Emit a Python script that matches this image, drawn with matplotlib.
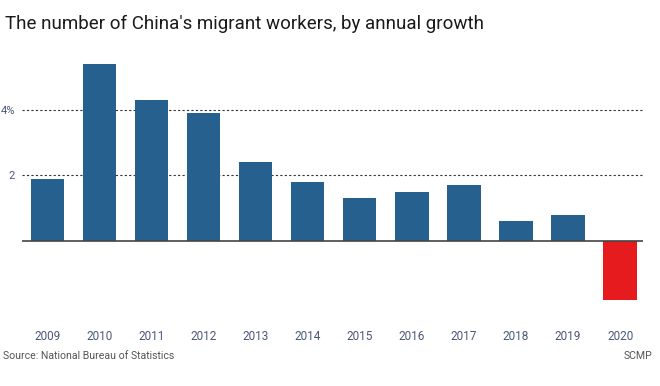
#!/usr/bin/env python3
''' China's migrant workers, annual growth bar chart '''
import numpy as np
import matplotlib.pyplot as plt

years = ['2009', '2010', '2011', '2012', '2013', '2014',
         '2015', '2016', '2017', '2018', '2019', '2020']
growth = [1.9, 5.4, 4.3, 3.9, 2.4, 1.8, 1.3, 1.5, 1.7, 0.6, 0.8, -1.8]

plt.rcParams['font.family'] = ['Roboto', 'DejaVu Sans']

fig = plt.figure(figsize=(6.6, 3.86), dpi=100)
ax = fig.add_axes([22 / 660, 0.206, 621 / 660, 0.645])

x = np.arange(len(years))
colors = ['#e51b1d' if v < 0 else '#26608f' for v in growth]
ax.bar(x, growth, width=0.64, color=colors, zorder=2)

ax.set_xlim(-0.49, 11.44)
ax.set_ylim(-2.0, 5.6)
ax.axhline(0, color='#444444', lw=1.2, zorder=3)
for g in [2, 4]:
    ax.axhline(g, color='#333333', lw=0.8, ls=(0, (2, 2)), zorder=1)

ax.set_yticks([2, 4])
ax.set_yticklabels(['2', '4%'])
ax.set_xticks(x)
ax.set_xticklabels(years)
ax.tick_params(axis='y', length=0, pad=5, labelsize=8, labelcolor='#4a5878')
ax.tick_params(axis='x', length=0, pad=17, labelsize=8.5, labelcolor='#4a5878')
for s in ax.spines.values():
    s.set_visible(False)

fig.text(5 / 660, 1 - 24 / 386, "The number of China's migrant workers, by annual growth",
         fontsize=13.5, color='#1a1a1a', va='center', ha='left')
fig.text(3 / 660, 1 - 356 / 386, 'Source: National Bureau of Statistics',
         fontsize=7.6, color='#555555', va='center', ha='left')
fig.text(652 / 660, 1 - 356 / 386, 'SCMP',
         fontsize=7.6, color='#555555', va='center', ha='right')

fig.savefig('out.png', dpi=100)
